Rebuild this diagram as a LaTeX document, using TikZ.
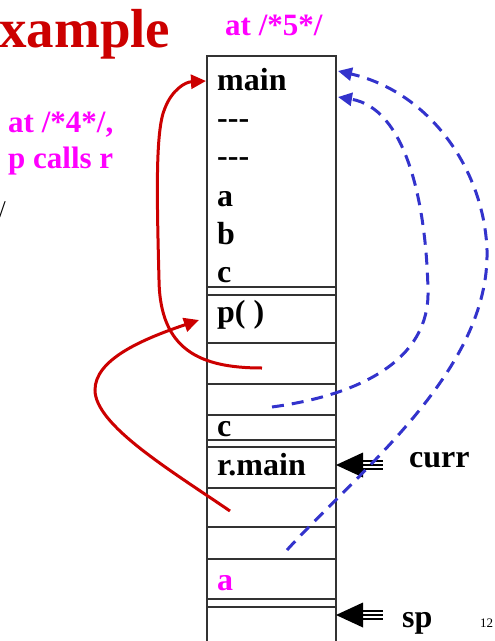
\documentclass[tikz,border=0pt]{standalone}
\usepackage{fontspec}
\setmainfont{Liberation Serif}
\usetikzlibrary{arrows.meta}

\definecolor{slidered}{RGB}{204,0,0}
\definecolor{linkblue}{RGB}{51,51,204}
\definecolor{notepink}{RGB}{255,0,255}

\tikzset{
  frame/.style={draw=black!80, line width=1.3pt},
  cell/.style={anchor=base west, inner xsep=10pt, inner ysep=0pt,
    font=\fontsize{32}{32}\selectfont\bfseries},
  note/.style={anchor=base west, inner sep=0pt, text=notepink,
    font=\fontsize{31}{31}\selectfont\bfseries},
  retred/.style={draw=slidered, line width=3pt,
    -{Triangle[length=15pt, width=14pt]}},
  dynlink/.style={draw=linkblue, line width=3pt, dash pattern=on 12pt off 8pt,
    -{Triangle[length=14pt, width=13pt]}}
}

% pointer into the stack: triple shaft and a filled head
\newcommand{\stkptr}[1]{%
  \fill (#1) -- ++(27,12.5) -- ++(0,-25) -- cycle;
  \draw[line width=1.5pt] ([xshift=26pt]#1) -- ++(21,0)
    ([xshift=26pt,yshift=4.2pt]#1) -- ++(21,0)
    ([xshift=26pt,yshift=-4.2pt]#1) -- ++(21,0);
}

\begin{document}
\begin{tikzpicture}[x=1pt, y=1pt]
    \useasboundingbox (0,0) rectangle (495,-641);

    % Title and notes
    \node[anchor=base west, inner sep=0pt, text=slidered,
      font=\fontsize{55}{55}\selectfont\bfseries] (title) at (-1,-47) {xample};
    \node[note] (at5) at (225,-35) {at /*5*/};
    \node[note] (at4) at (8,-132) {at /*4*/,};
    \node[note] (pcalls) at (8,-168) {p calls r};
    \node[anchor=base west, inner sep=0pt,
      font=\fontsize{24}{24}\selectfont] (cut) at (-1,-217) {/};
    \node[anchor=base west, inner sep=0pt,
      font=\fontsize{13}{13}\selectfont] (pgno) at (480,-627) {12};

    % Stack frame
    \draw[frame] (207,-645) -- (207,-56) -- (336,-56) -- (336,-645);
    \foreach \y in {287,295,343,384,415,440,447,488,527,559,599,607}
        \draw[frame] (207,-\y) -- (336,-\y);

    % Frame of main
    \node[cell] (main) at (207,-90) {main};
    \node[cell] (dashA) at (207,-128.4) {-{}-{}-};
    \node[cell] (dashB) at (207,-166.8) {-{}-{}-};
    \node[cell] (va) at (207,-206) {a};
    \node[cell] (vb) at (207,-244) {b};
    \node[cell] (vc) at (207,-282) {c};

    % Frame of p, then frame of r
    \node[cell] (pcall) at (207,-322) {p( )};
    \node[cell] (rc) at (207,-436) {c};
    \node[cell] (rmain) at (207,-475) {r.main};
    \node[cell, text=notepink] (ra) at (207,-590) {a};

    % Pointers curr and sp
    \node[cell, inner xsep=0pt] (curr) at (409,-467) {curr};
    \node[cell, inner xsep=0pt] (sp) at (402,-627) {sp};
    \coordinate (currtip) at (336,-465);
    \coordinate (sptip) at (336,-615);
    \stkptr{currtip}
    \stkptr{sptip}

    % Return links (red)
    \coordinate (frmR) at (262,-368);
    \coordinate (mainin) at (206,-81);
    \coordinate (frmP) at (230,-511);
    \coordinate (pin) at (199,-320);
    \draw[retred] (frmR) .. controls (200,-368) and (160,-350) .. (159,-280)
        .. controls (157,-200) and (155,-130) .. (165,-108)
        .. controls (172,-90) and (185,-82) .. (mainin);
    \draw[retred] (frmP) .. controls (170,-470) and (95,-425) .. (95,-390)
        .. controls (95,-360) and (140,-340) .. (pin);

    % Links to main (blue, dashed)
    \coordinate (lnkA) at (287,-550);
    \coordinate (lnkB) at (272,-407);
    \coordinate (retA) at (338,-71);
    \coordinate (retB) at (338,-97);
    \draw[dynlink] (lnkA) .. controls (360,-470) and (490,-370) .. (487,-250)
        .. controls (484,-170) and (430,-92) .. (retA);
    \draw[dynlink] (lnkB) .. controls (360,-395) and (430,-360) .. (428,-290)
        .. controls (426,-200) and (405,-108) .. (retB);
\end{tikzpicture}
\end{document}
